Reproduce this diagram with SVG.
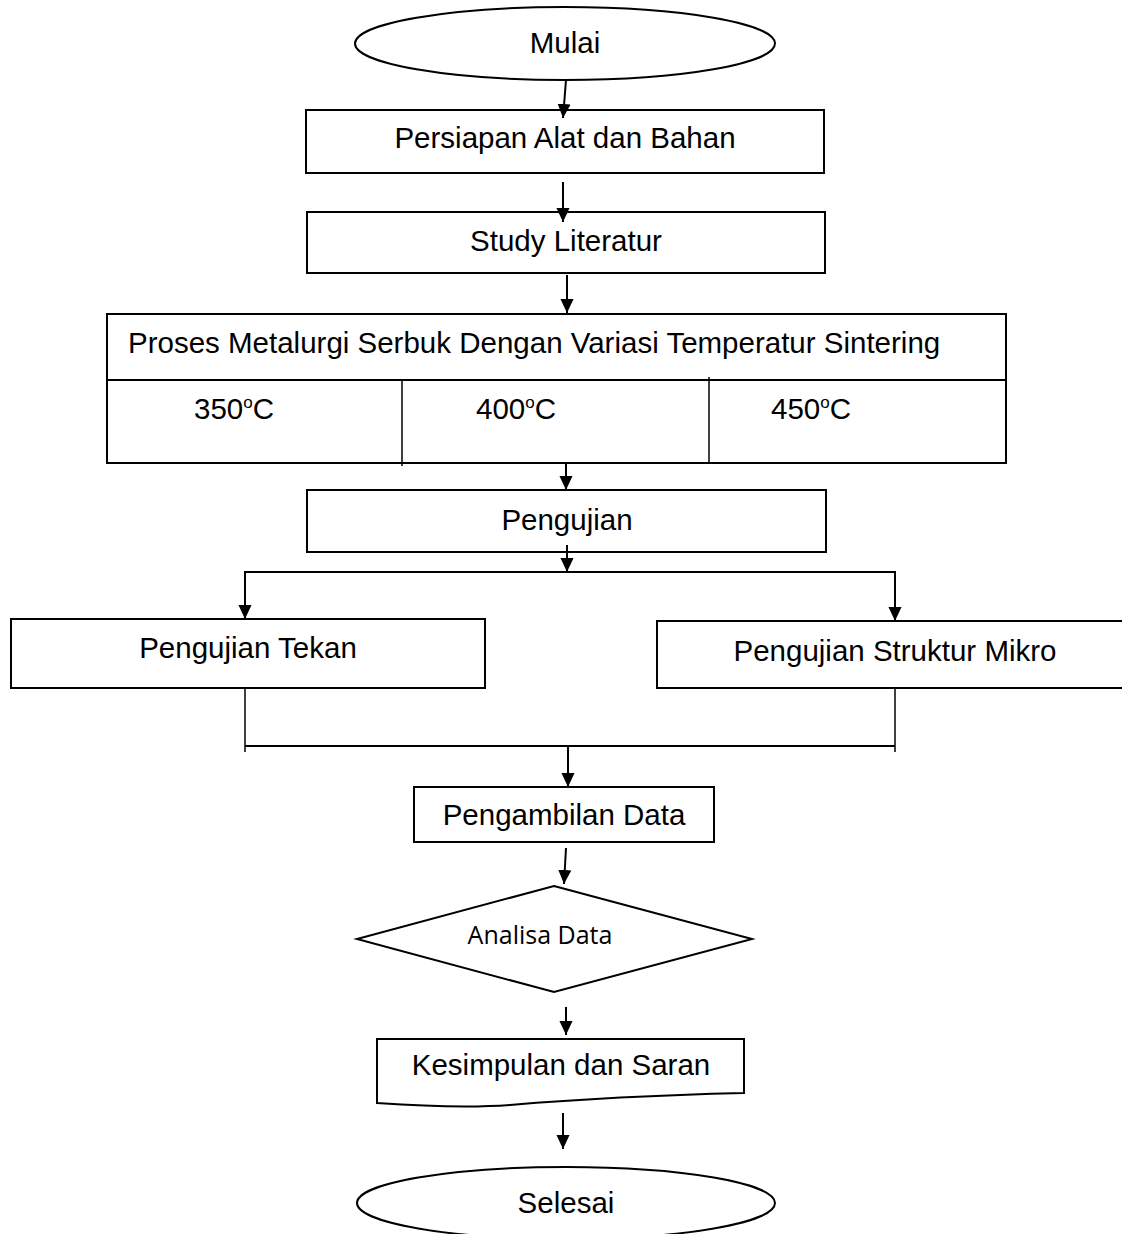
<svg xmlns="http://www.w3.org/2000/svg" width="1122" height="1234" viewBox="0 0 1122 1234">
<style>
.s{fill:#fff;stroke:#000;stroke-width:2}
.t{font-family:"Liberation Sans",Arial,sans-serif;font-size:29.5px;fill:#000;text-anchor:middle}
.tl{font-family:"Liberation Sans",Arial,sans-serif;font-size:29.5px;fill:#000}
.c{fill:none;stroke:#000;stroke-width:2}
.th{fill:none;stroke:#000;stroke-width:1.5}
</style>
<defs>
<marker id="ah" markerWidth="14" markerHeight="15" viewBox="0 0 15 14" refX="15" refY="7" orient="auto" markerUnits="userSpaceOnUse">
<path d="M0,0 L15,7 L0,14 Z" fill="#000"/>
</marker>
</defs>
<rect width="1122" height="1234" fill="#fff"/>
<g id="mulai">
<ellipse class="s" cx="565" cy="43.5" rx="210" ry="36.5"/>
<text class="t" x="565" y="53">Mulai</text>
</g>
<g id="persiapan">
<rect class="s" x="306" y="110" width="518" height="63"/>
<text class="t" x="565" y="148">Persiapan Alat dan Bahan</text>
</g>
<g id="study">
<rect class="s" x="307" y="212" width="518" height="61"/>
<text class="t" x="566" y="251">Study Literatur</text>
</g>
<g id="proses">
<rect class="s" x="107" y="314" width="899" height="149"/>
<line class="c" x1="107" y1="380" x2="1006" y2="380"/>
<line class="th" x1="402" y1="380" x2="402" y2="466"/>
<line class="th" x1="709" y1="377" x2="709" y2="463"/>
<text class="tl" x="128" y="353">Proses Metalurgi Serbuk Dengan Variasi Temperatur Sintering</text>
<text class="tl" x="194" y="419">350<tspan font-size="17" dy="-11">o</tspan><tspan dy="11">C</tspan></text>
<text class="tl" x="476" y="419">400<tspan font-size="17" dy="-11">o</tspan><tspan dy="11">C</tspan></text>
<text class="tl" x="771" y="419">450<tspan font-size="17" dy="-11">o</tspan><tspan dy="11">C</tspan></text>
</g>
<g id="pengujian">
<rect class="s" x="307" y="490" width="519" height="62"/>
<text class="t" x="567" y="530">Pengujian</text>
</g>
<g id="tekan">
<rect class="s" x="11" y="619" width="474" height="69"/>
<text class="t" x="248" y="658">Pengujian Tekan</text>
</g>
<g id="mikro">
<rect class="s" x="657" y="621" width="470" height="67"/>
<text class="t" x="895" y="661">Pengujian Struktur Mikro</text>
</g>
<g id="pengambilan">
<rect class="s" x="414" y="787" width="300" height="55"/>
<text class="t" x="564" y="825">Pengambilan Data</text>
</g>
<g id="analisa">
<polygon class="s" points="554,886 752,939 554,992 357,939"/>
<text x="540" y="944" font-family="'Open Sans','Noto Sans',sans-serif" font-size="25" text-anchor="middle" fill="#000">Analisa Data</text>
</g>
<g id="kesimpulan">
<path class="s" d="M377,1039 H744 V1093 C660,1095 580,1099 510,1105 C470,1108 420,1106 377,1103 Z"/>
<text class="t" x="561" y="1075">Kesimpulan dan Saran</text>
</g>
<g id="selesai">
<ellipse class="s" cx="566" cy="1203" rx="209" ry="36"/>
<text class="t" x="566" y="1213">Selesai</text>
</g>
<g id="connectors">
<line class="c" x1="566" y1="80" x2="563" y2="118" marker-end="url(#ah)"/>
<line class="c" x1="563" y1="182" x2="563" y2="222" marker-end="url(#ah)"/>
<line class="c" x1="567" y1="275" x2="567" y2="313" marker-end="url(#ah)"/>
<line class="c" x1="566" y1="463" x2="566" y2="490" marker-end="url(#ah)"/>
<line class="c" x1="567" y1="545" x2="567" y2="572" marker-end="url(#ah)"/>
<line class="c" x1="245" y1="572" x2="896" y2="572"/>
<line class="c" x1="245" y1="571" x2="245" y2="619" marker-end="url(#ah)"/>
<line class="c" x1="895" y1="571" x2="895" y2="621" marker-end="url(#ah)"/>
<line class="th" x1="245" y1="688" x2="245" y2="752"/>
<line class="th" x1="895" y1="688" x2="895" y2="752"/>
<line class="c" x1="245" y1="746" x2="895" y2="746"/>
<line class="c" x1="568" y1="746" x2="568" y2="787" marker-end="url(#ah)"/>
<line class="c" x1="566" y1="848" x2="564" y2="884" marker-end="url(#ah)"/>
<line class="c" x1="566" y1="1007" x2="566" y2="1035" marker-end="url(#ah)"/>
<line class="c" x1="563" y1="1113" x2="563" y2="1149" marker-end="url(#ah)"/>
</g>
</svg>
